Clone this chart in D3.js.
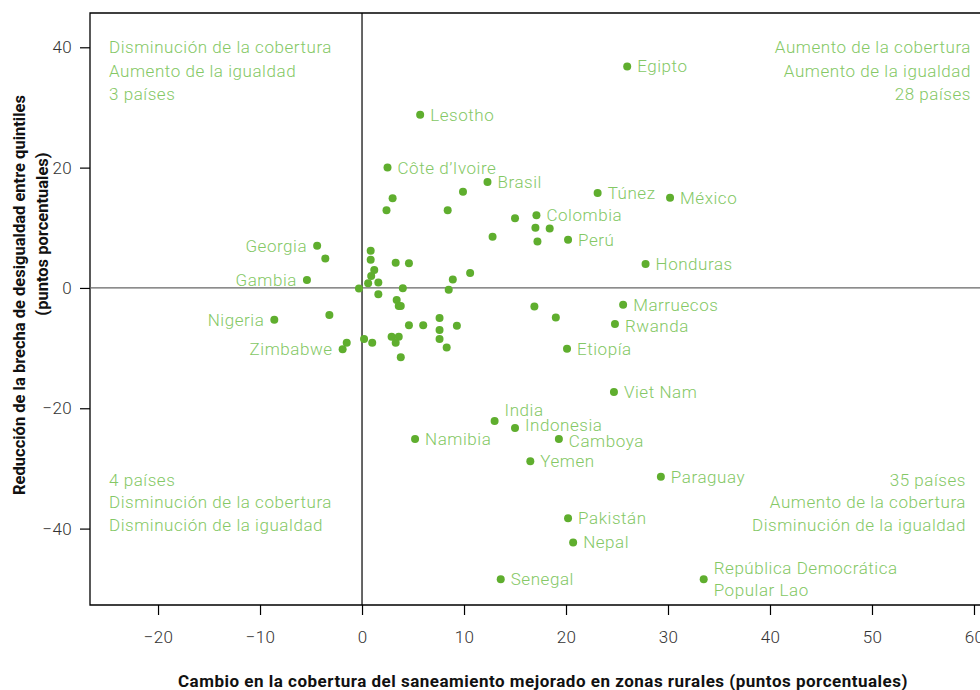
<!DOCTYPE html>
<html><head><meta charset="utf-8">
<script src="https://cdn.jsdelivr.net/npm/d3@7"></script>
<style>
body{margin:0;background:#fff;}
svg{display:block;}
</style></head>
<body><svg id="c" width="980" height="690"></svg>
<script>
// ---- data ----
const labeledNames = ["Egipto","Lesotho","Côte d’Ivoire","Brasil","Túnez","México","Colombia","Perú","Honduras","Georgia","Gambia","Nigeria","Zimbabwe","Marruecos","Rwanda","Etiopía","Viet Nam","India","Indonesia","Namibia","Camboya","Yemen","Paraguay","Pakistán","Nepal","Senegal","República Democrática|Popular Lao"];
const labeledX = [26.0,5.7,2.5,12.3,23.1,30.2,17.1,20.2,27.8,-4.4,-5.4,-8.6,-1.9,25.6,24.8,20.1,24.7,13.0,15.0,5.2,19.3,16.5,29.3,20.2,20.7,13.6,33.5];
const labeledY = [36.8,28.8,20.0,17.6,15.8,15.0,12.1,8.0,4.0,7.0,1.3,-5.3,-10.2,-2.8,-6.0,-10.1,-17.3,-22.1,-23.3,-25.1,-25.1,-28.8,-31.4,-38.3,-42.3,-48.4,-48.4];
const labelSide = ["r","r","r","r","r","r","r","r","r","l","l","l","l","r","r","r","r","r","r","r","r","r","r","r","r","r","r"];
const otherX = [9.9,3.0,2.4,8.4,15.0,12.8,17.0,18.4,17.2,-3.6,0.85,0.85,3.3,4.6,1.2,10.6,0.9,8.9,0.6,1.6,-0.3,4.0,8.5,1.6,3.4,3.6,3.8,-3.2,7.6,4.6,6.0,9.3,7.6,2.9,3.6,7.6,0.2,-1.5,1.0,3.3,8.3,3.8,16.9,19.0];
const otherY = [16.0,14.9,12.9,12.9,11.6,8.5,10.0,9.9,7.7,4.9,6.2,4.7,4.2,4.1,3.0,2.5,2.0,1.4,0.8,0.9,-0.1,-0.05,-0.3,-1.05,-2.0,-3.0,-3.0,-4.5,-5.0,-6.2,-6.2,-6.3,-7.0,-8.1,-8.1,-8.5,-8.5,-9.1,-9.1,-9.1,-9.9,-11.5,-3.1,-4.9];
const xTicks = [-20,-10,0,10,20,30,40,50,60];
const yTicks = [-40,-20,0,20,40];
const quadTL = ["Disminución de la cobertura","Aumento de la igualdad","3 países"];
const quadTR = ["Aumento de la cobertura","Aumento de la igualdad","28 países"];
const quadBL = ["4 países","Disminución de la cobertura","Disminución de la igualdad"];
const quadBR = ["35 países","Aumento de la cobertura","Disminución de la igualdad"];
const xTitle = "Cambio en la cobertura del saneamiento mejorado en zonas rurales (puntos porcentuales)";
const yTitle1 = "Reducción de la brecha de desigualdad entre quintiles";
const yTitle2 = "(puntos porcentuales)";

// ---- chart ----
const svg = d3.select("#c");
const L=90, T=13, R=990, B=605;
const x = d3.scaleLinear().domain([-26.67,61.57]).range([L,R]);
const y = d3.scaleLinear().domain([-52.7,45.7]).range([B,T]);
const dot = "#5fae2e", lab = "#84c865", axc = "#333";
const FONT = "Roboto, 'DejaVu Sans', sans-serif";
const LS = 0.55;

// frame
svg.append("path").attr("d",`M${R},${T}H${L}V${B}H${R}`).attr("fill","none").attr("stroke","#000").attr("stroke-width",1.3);
// zero lines
svg.append("line").attr("x1",L).attr("x2",R).attr("y1",y(0)).attr("y2",y(0)).attr("stroke","#666").attr("stroke-width",1.2);
svg.append("line").attr("x1",x(0)).attr("x2",x(0)).attr("y1",T).attr("y2",B).attr("stroke","#000").attr("stroke-width",1.2);

// axes
const gx = svg.append("g").attr("transform",`translate(0,${B})`)
  .call(d3.axisBottom(x).tickValues(xTicks).tickSize(10).tickSizeOuter(0).tickPadding(16).tickFormat(d=>d<0?"−"+Math.abs(d):d));
const gy = svg.append("g").attr("transform",`translate(${L},0)`)
  .call(d3.axisLeft(y).tickValues(yTicks).tickSize(10).tickSizeOuter(0).tickPadding(8).tickFormat(d=>d<0?"−"+Math.abs(d):d));
[gx,gy].forEach(g=>{
  g.select(".domain").remove();
  g.selectAll(".tick line").attr("stroke","#000").attr("stroke-width",1.2);
  g.selectAll(".tick text").attr("fill",axc).attr("font-family",FONT).attr("font-weight",300).attr("font-size",17).attr("letter-spacing",0.3);
});

// quadrant texts
function quad(lines, xx, ys, anchor){
  lines.forEach((t,i)=>svg.append("text").attr("x",xx).attr("y",ys[i]).attr("dy","0.35em")
    .attr("text-anchor",anchor).attr("fill",lab).attr("font-family",FONT).attr("font-weight",300).attr("font-size",17)
    .attr("letter-spacing",LS).text(t));
}
quad(quadTL,109,[47,71,94],"start");
quad(quadTR,971,[47,71,94],"end");
quad(quadBL,109,[480,502,525],"start");
quad(quadBR,966,[480,502,525],"end");

// label vertical nudges (px) to avoid overlaps, as in the reference
const nudge = {"India":-11,"Indonesia":-3,"Camboya":2,"Rwanda":2};

// points
const pts = svg.append("g");
otherX.forEach((v,i)=>pts.append("circle").attr("cx",x(v)).attr("cy",y(otherY[i])).attr("r",4).attr("fill",dot));
labeledX.forEach((v,i)=>{
  const cx=x(v), cy=y(labeledY[i]);
  pts.append("circle").attr("cx",cx).attr("cy",cy).attr("r",4).attr("fill",dot);
  const parts = labeledNames[i].split("|");
  const right = labelSide[i]==="r";
  const ny = nudge[parts[0]]||0;
  const t = svg.append("text").attr("x",right?cx+10:cx-10).attr("y",cy + ny - (parts.length-1)*11)
    .attr("text-anchor",right?"start":"end").attr("fill",lab).attr("font-family",FONT).attr("font-weight",300).attr("font-size",17)
    .attr("letter-spacing",LS);
  parts.forEach((p,j)=>t.append("tspan").attr("x",right?cx+10:cx-10).attr("dy",j===0?"0.35em":"22px").text(p));
});

// titles
svg.append("text").attr("x",543).attr("y",681).attr("dy","0.35em").attr("text-anchor","middle")
  .attr("font-family",FONT).attr("font-weight",700).attr("font-size",17).attr("letter-spacing",0.5).attr("fill","#111").text(xTitle);
svg.append("text").attr("transform","translate(19,295) rotate(-90)").attr("dy","0.35em").attr("text-anchor","middle")
  .attr("font-family",FONT).attr("font-weight",700).attr("font-size",16.5).attr("letter-spacing",0).attr("fill","#111").text(yTitle1);
svg.append("text").attr("transform","translate(42,234) rotate(-90)").attr("dy","0.35em").attr("text-anchor","middle")
  .attr("font-family",FONT).attr("font-weight",700).attr("font-size",16.5).attr("letter-spacing",0).attr("fill","#111").text(yTitle2);
</script></body></html>
